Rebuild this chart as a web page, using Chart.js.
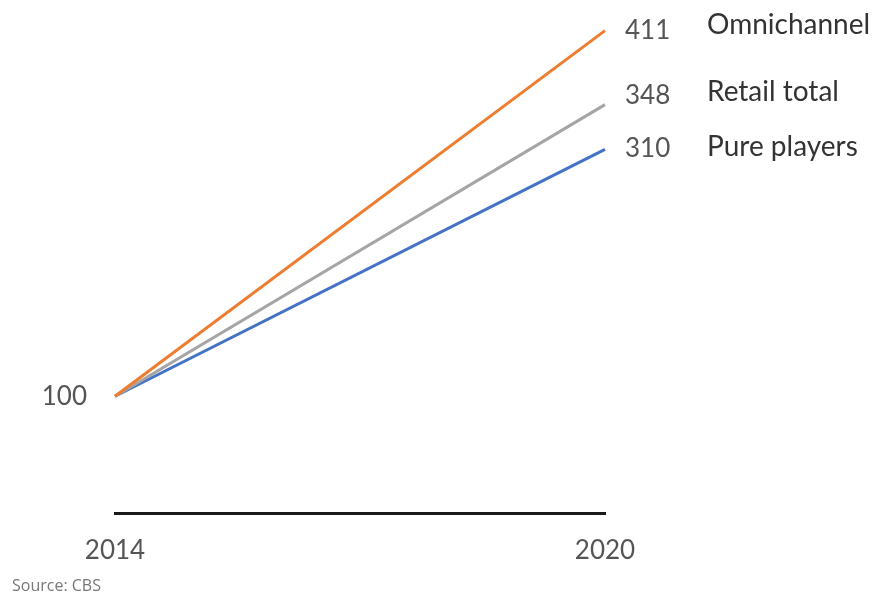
<!DOCTYPE html>
<html lang="en">
<head>
  <meta charset="UTF-8" />
  <title>Omnichannel vs pure players</title>
  <script src="https://cdn.jsdelivr.net/npm/chart.js"></script>
  <style>
    html, body {
      margin: 0;
      padding: 0;
      background: #fff;
    }
    #wrap {
      width: 876px;
      height: 593px;
    }
  </style>
</head>
<body>
  <div id="wrap">
    <canvas id="chart" width="876" height="593"></canvas>
  </div>

  <script>
    // data (index, 2014 = 100)
    const years = ['2014', '2020'];
    const seriesNames = ['Omnichannel', 'Retail total', 'Pure players'];
    const omnichannel = [100, 411];
    const retailTotal = [100, 348];
    const purePlayers = [100, 310];
    const startLabel = 100;
    const sourceText = 'Source: CBS';

    const colors = ['#ED7D31', '#A5A5A5', '#4472C4'];
    const textColor = '#555555';
    const font = 'Lato, "Open Sans", sans-serif';

    // small vertical nudges for the end labels (the middle one sits a bit higher)
    const valueNudge = [0, -9, -1];
    const nameNudge = [-6, -13, -2];

    const labelPlugin = {
      id: 'endLabels',
      afterDraw(chart) {
        const ctx = chart.ctx;
        const x = chart.scales.x;
        const y = chart.scales.y;
        ctx.save();
        ctx.fillStyle = textColor;
        ctx.textBaseline = 'middle';

        // start value on the left
        ctx.font = '26px ' + font;
        ctx.textAlign = 'right';
        ctx.fillText(String(startLabel), 87, y.getPixelForValue(startLabel));

        // value + name at the end of each line
        chart.data.datasets.forEach((ds, i) => {
          const last = ds.data[ds.data.length - 1];
          const py = y.getPixelForValue(last);
          const px = x.getPixelForValue(ds.data.length - 1);
          ctx.textAlign = 'left';
          ctx.font = '26px ' + font;
          ctx.fillStyle = textColor;
          ctx.fillText(String(last), px + 20, py + valueNudge[i]);
          ctx.font = '28px ' + font;
          ctx.fillStyle = '#333333';
          ctx.fillText(ds.label, px + 102, py + nameNudge[i]);
        });

        // source note
        ctx.font = '16px "Open Sans", sans-serif';
        ctx.fillStyle = '#777777';
        ctx.textAlign = 'left';
        ctx.fillText(sourceText, 12, 586);
        ctx.restore();
      }
    };

    new Chart(document.getElementById('chart').getContext('2d'), {
      type: 'line',
      data: {
        labels: years,
        datasets: [
          { label: seriesNames[0], data: omnichannel, borderColor: colors[0] },
          { label: seriesNames[1], data: retailTotal, borderColor: colors[1] },
          { label: seriesNames[2], data: purePlayers, borderColor: colors[2] }
        ]
      },
      options: {
        responsive: false,
        animation: false,
        layout: {
          padding: { left: 115, right: 271, top: 20, bottom: 6 }
        },
        elements: {
          line: { borderWidth: 3, tension: 0 },
          point: { radius: 0 }
        },
        plugins: {
          legend: { display: false },
          tooltip: { enabled: false }
        },
        scales: {
          x: {
            offset: false,
            grid: { display: false, drawTicks: false },
            border: { display: true, color: '#1a1a1a', width: 3 },
            ticks: {
              color: textColor,
              padding: 21,
              font: { family: font, size: 26 },
              maxRotation: 0,
              autoSkip: false
            }
          },
          y: {
            display: false,
            min: 0,
            max: 420
          }
        }
      },
      plugins: [labelPlugin]
    });
  </script>
</body>
</html>
